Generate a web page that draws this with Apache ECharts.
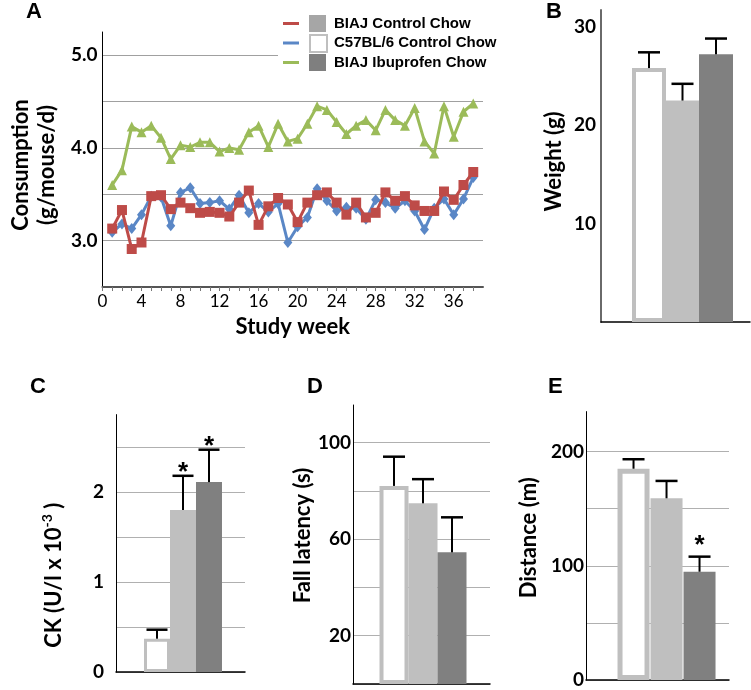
<!DOCTYPE html>
<html><head><meta charset="utf-8">
<script src="https://cdn.jsdelivr.net/npm/echarts@6/dist/echarts.min.js"></script>
<style>html,body{margin:0;padding:0;background:#fff}#c{width:751px;height:690px}</style>
</head><body><div id="c"></div>
<script>
// ---------- Panel A: weekly consumption (g/mouse/d) ----------
const weeks = [1,2,3,4,5,6,7,8,9,10,11,12,13,14,15,16,17,18,19,20,21,22,23,24,25,26,27,28,29,30,31,32,33,34,35,36,37,38];
const biajControl = [3.13,3.33,2.91,2.98,3.48,3.49,3.34,3.41,3.35,3.30,3.31,3.30,3.26,3.41,3.54,3.17,3.37,3.46,3.39,3.20,3.41,3.49,3.52,3.41,3.28,3.41,3.25,3.30,3.52,3.43,3.48,3.38,3.32,3.32,3.53,3.44,3.60,3.74];
const c57Control = [3.09,3.18,3.13,3.28,3.48,3.47,3.16,3.52,3.57,3.40,3.41,3.43,3.34,3.49,3.30,3.40,3.31,3.40,2.98,3.15,3.25,3.56,3.43,3.32,3.36,3.35,3.23,3.44,3.41,3.35,3.43,3.32,3.12,3.35,3.45,3.28,3.45,3.68];
const biajIbuprofen = [3.60,3.76,4.23,4.17,4.24,4.11,3.88,4.03,4.01,4.06,4.06,3.96,4.00,3.98,4.17,4.24,4.01,4.26,4.07,4.10,4.26,4.45,4.41,4.28,4.15,4.24,4.30,4.19,4.41,4.30,4.24,4.43,4.07,3.94,4.45,4.12,4.39,4.48];
const lineNames = ['BIAJ Control Chow','C57BL/6 Control Chow','BIAJ Ibuprofen Chow'];
const xTickStep = 4;

// ---------- Panels B-E: group bars (order: C57BL/6, BIAJ control, BIAJ ibuprofen) ----------
const barGroups = ['C57BL/6 Control Chow','BIAJ Control Chow','BIAJ Ibuprofen Chow'];
const groupPos = [1,2,3];
const weightMean = [25.8, 22.5, 27.2];
const weightErr  = [1.6, 1.7, 1.6];
const weightSig  = ['', '', ''];
const ckMean = [0.37, 1.80, 2.11];
const ckErr  = [0.10, 0.38, 0.36];
const ckSig  = ['', '*', '*'];
const fallMean = [82.0, 74.8, 54.5];
const fallErr  = [12.1, 10.0, 14.5];
const fallSig  = ['', '', ''];
const distMean = [185.0, 159.1, 94.8];
const distErr  = [8.3, 15.2, 13.2];
const distSig  = ['', '', '*'];

// ---------- styles ----------
const lineColors = ['#BE4B48', '#5A87C6', '#9BBB59'];
const lineSymbols = ['rect', 'diamond', 'triangle'];
const lineSymbolSizes = [10, [9, 11], 10];
const FONT = 'Lato';

function groupStyle(i, bw) {
  if (i === 0) return {color: '#ffffff', borderColor: '#bfbfbf', borderWidth: bw};
  if (i === 1) return {color: '#bfbfbf'};
  return {color: '#808080'};
}

function barSeries(idx, vals, barW, borderW) {
  return {
    type: 'bar', xAxisIndex: idx, yAxisIndex: idx, barWidth: barW, z: 2, silent: true,
    data: vals.map((v, i) => ({value: [groupPos[i], v], itemStyle: groupStyle(i, borderW)}))
  };
}

function errSeries(idx, vals, errs, sig, capW, starOff) {
  return {
    type: 'custom', xAxisIndex: idx, yAxisIndex: idx, z: 5, silent: true,
    encode: {x: 0, y: [1, 2]},
    data: vals.map((v, i) => [groupPos[i], v, v + errs[i], sig[i]]),
    renderItem: function (params, api) {
      const x = api.value(0);
      const lo = api.coord([x, api.value(1)]);
      const hi = api.coord([x, api.value(2)]);
      const s = sig[params.dataIndex];
      const children = [
        {type: 'line', shape: {x1: lo[0], y1: lo[1], x2: hi[0], y2: hi[1]}, style: {stroke: '#000', lineWidth: 2}},
        {type: 'line', shape: {x1: hi[0] - capW / 2, y1: hi[1], x2: hi[0] + capW / 2, y2: hi[1]}, style: {stroke: '#000', lineWidth: 2.5}}
      ];
      if (s) {
        children.push({type: 'text', x: hi[0], y: hi[1] - starOff,
          style: {text: s, fill: '#000', font: 'bold 26px "Liberation Sans"', align: 'center', verticalAlign: 'top'}});
      }
      return {type: 'group', children: children};
    }
  };
}

const titleStyle = {fontSize: 22, fontWeight: 'bold', fontFamily: 'Liberation Sans', color: '#000'};
const nameStyle = (pad) => ({fontSize: 22, fontWeight: 'bold', fontFamily: FONT, color: '#000', padding: pad});
const tickLabelStyle = {fontSize: 19, fontWeight: 'bold', fontFamily: FONT, color: '#000'};

function barXAxis(idx, min, max) {
  return {type: 'value', gridIndex: idx, min: min, max: max,
    axisLine: {show: true, onZero: false, lineStyle: {color: '#000', width: 1.5}},
    axisTick: {show: false}, axisLabel: {show: false}, splitLine: {show: false}};
}

function barYAxis(idx, max, interval, fmt, name, gap, pad, split, margin, axisColor) {
  return {type: 'value', gridIndex: idx, min: 0, max: max, interval: interval,
    name: name, nameLocation: 'middle', nameGap: gap, nameRotate: 90, nameTextStyle: nameStyle(pad),
    axisLine: {show: true, onZero: false, lineStyle: {color: axisColor || '#000', width: axisColor ? 2 : 1}},
    axisTick: {show: false},
    axisLabel: Object.assign({formatter: fmt, margin: margin, showMaxLabel: false}, tickLabelStyle),
    splitLine: split ? {show: true, showMaxLine: false, lineStyle: {color: '#b0b0b0', width: 1}} : {show: false}};
}

const chart = echarts.init(document.getElementById('c'), null, {renderer: 'canvas'});
const option = {
  animation: false,
  backgroundColor: '#fff',
  title: [
    {text: 'A', left: 26, top: 1, padding: 0, textStyle: titleStyle},
    {text: 'B', left: 546, top: 1, padding: 0, textStyle: titleStyle},
    {text: 'C', left: 30, top: 376, padding: 0, textStyle: titleStyle},
    {text: 'D', left: 307, top: 376, padding: 0, textStyle: titleStyle},
    {text: 'E', left: 548, top: 376, padding: 0, textStyle: titleStyle}
  ],
  legend: {
    show: true, orient: 'vertical', left: 278, top: 11, padding: [4, 10, 4, 5],
    backgroundColor: '#fff', z: 10,
    data: lineNames, icon: 'rect', itemWidth: 16, itemHeight: 3, itemGap: 2.5,
    selectedMode: false,
    textStyle: {fontSize: 15, fontWeight: 'bold', fontFamily: 'Liberation Sans', color: '#000', lineHeight: 17, padding: [0, 0, 0, 30]}
  },
  graphic: [
    {type: 'rect', left: 309, top: 15, z: 20, shape: {width: 17, height: 17}, style: {fill: '#a6a6a6'}},
    {type: 'rect', left: 309, top: 34, z: 20, shape: {width: 17, height: 17}, style: {fill: '#fff', stroke: '#bfbfbf', lineWidth: 2}},
    {type: 'rect', left: 309, top: 54, z: 20, shape: {width: 17, height: 17}, style: {fill: '#7f7f7f'}}
  ],
  grid: [
    {left: 88, top: 32, width: 395, height: 255},
    {left: 601, top: 10, width: 149, height: 312},
    {left: 116, top: 414.6, width: 129, height: 257.4},
    {left: 353, top: 405, width: 137, height: 279},
    {left: 586, top: 411.6, width: 143, height: 268.4}
  ],
  xAxis: [
    {type: 'value', gridIndex: 0, min: 0, max: 39, interval: 1,
      name: 'Study week', nameLocation: 'middle', nameGap: 29,
      nameTextStyle: {fontSize: 22, fontWeight: 'bold', fontFamily: FONT, color: '#000'},
      axisLine: {show: true, onZero: false, lineStyle: {color: '#555', width: 2}},
      axisTick: {show: true, length: 4, lineStyle: {color: '#777'}},
      axisLabel: {formatter: v => (v % xTickStep === 0 ? String(v) : ''), margin: 6, fontSize: 17, fontFamily: FONT, color: '#000', showMaxLabel: false},
      splitLine: {show: false}},
    barXAxis(1, -0.433, 4.015),
    barXAxis(2, -0.577, 4.385),
    barXAxis(3, -0.414, 4.31),
    barXAxis(4, -0.44, 3.893)
  ],
  yAxis: [
    {type: 'value', gridIndex: 0, min: 2.5, max: 5.25, interval: 0.5,
      name: 'Consumption\n(g/mouse/d)', nameLocation: 'middle', nameGap: 30, nameRotate: 90,
      nameTextStyle: {fontSize: 22, lineHeight: 26, fontWeight: 'bold', fontFamily: FONT, color: '#000', padding: [0, 11, 0, 0]},
      axisLine: {show: true, onZero: false, lineStyle: {color: '#000', width: 1}},
      axisTick: {show: false},
      axisLabel: Object.assign({formatter: v => (v % 1 === 0 ? v.toFixed(1) : ''), margin: 5, showMaxLabel: false}, tickLabelStyle),
      splitLine: {show: true, showMaxLine: false, lineStyle: {color: '#a0a0a0', width: 1}}},
    barYAxis(1, 31.7, 10, v => (v === 0 ? '' : String(v)), 'Weight (g)', 36, [0, 0, 0, 9], false, 5, '#6a6a6a'),
    barYAxis(2, 2.86, 0.5, v => (Number.isInteger(v) ? String(v) : ''), 'CK (U/l x 10{sup|-3} )', 49, [0, 64, 0, 0], true, 12),
    barYAxis(3, 115.5, 20, v => (v % 40 === 20 ? String(v) : ''), 'Fall latency (s)', 31, [0, 0, 0, 18], true, 2),
    barYAxis(4, 235, 50, v => (v % 100 === 0 ? String(v) : ''), 'Distance (m)', 46, [0, 0, 0, 16], true, 2)
  ],
  series: [
    {name: lineNames[1], type: 'line', xAxisIndex: 0, yAxisIndex: 0, z: 3,
      data: weeks.map((w, i) => [w, c57Control[i]]),
      symbol: lineSymbols[1], symbolSize: lineSymbolSizes[1],
      itemStyle: {color: lineColors[1]}, lineStyle: {color: lineColors[1], width: 3}},
    {name: lineNames[0], type: 'line', xAxisIndex: 0, yAxisIndex: 0, z: 4,
      data: weeks.map((w, i) => [w, biajControl[i]]),
      symbol: lineSymbols[0], symbolSize: lineSymbolSizes[0],
      itemStyle: {color: lineColors[0]}, lineStyle: {color: lineColors[0], width: 3}},
    {name: lineNames[2], type: 'line', xAxisIndex: 0, yAxisIndex: 0, z: 3,
      data: weeks.map((w, i) => [w, biajIbuprofen[i]]),
      symbol: lineSymbols[2], symbolSize: lineSymbolSizes[2],
      itemStyle: {color: lineColors[2]}, lineStyle: {color: lineColors[2], width: 3}},
    barSeries(1, weightMean, 34, 4),
    errSeries(1, weightMean, weightErr, weightSig, 22, 30),
    barSeries(2, ckMean, 26, 3),
    errSeries(2, ckMean, ckErr, ckSig, 21, 16),
    barSeries(3, fallMean, 29, 4),
    errSeries(3, fallMean, fallErr, fallSig, 22, 30),
    barSeries(4, distMean, 32, 5),
    errSeries(4, distMean, distErr, distSig, 22, 24)
  ]
};
option.yAxis[2].nameTextStyle.rich = {sup: {fontSize: 14, fontWeight: 'bold', fontFamily: FONT, color: '#000', verticalAlign: 'bottom', padding: [0, 0, 13, 0]}};
chart.setOption(option);
</script>
</body></html>
